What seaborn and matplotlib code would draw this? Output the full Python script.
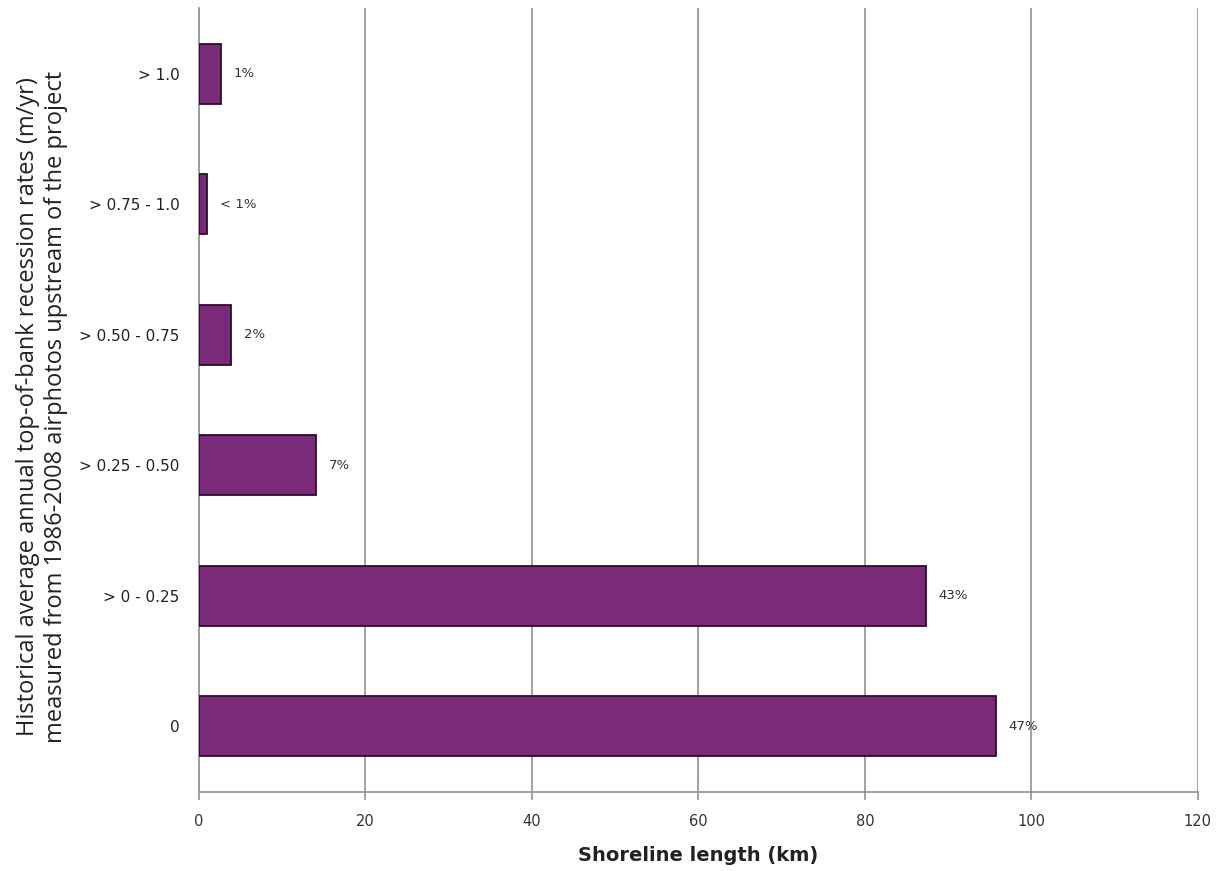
import matplotlib
matplotlib.use("Agg")
import matplotlib.pyplot as plt
import pandas as pd
import seaborn as sns

# data
rate_classes = ["> 1.0", "> 0.75 - 1.0", "> 0.50 - 0.75", "> 0.25 - 0.50", "> 0 - 0.25", "0"]
length_km = [2.6, 1.0, 3.9, 14.1, 87.3, 95.7]
pct_labels = ["1%", "< 1%", "2%", "7%", "43%", "47%"]

df = pd.DataFrame({"rate": rate_classes, "length": length_km})

sns.set_style("white")
plt.rcParams["font.family"] = ["DejaVu Sans"]

fig = plt.figure(figsize=(12.22, 8.71), dpi=100)
ax = fig.add_axes([0.1628, 0.0910, 0.8175, 0.8995])

sns.barplot(data=df, x="length", y="rate", orient="h", order=rate_classes,
            color="#7B2979", saturation=1, width=0.46,
            edgecolor="#2e0c2e", linewidth=1.3, ax=ax, zorder=3)

for i, (v, lab) in enumerate(zip(length_km, pct_labels)):
    ax.annotate(lab, xy=(v, i), xytext=(9, 0), textcoords="offset points",
                ha="left", va="center", fontsize=9.5, color="#333333",
                family="DejaVu Sans")

ax.set_xlim(0, 120)
ax.set_ylim(5.5, -0.5)
ax.set_xticks(range(0, 121, 20))
ax.grid(axis="x", color="#9a9a9a", linewidth=1.3, zorder=0)
ax.grid(axis="y", visible=False)
for s in ["top", "right"]:
    ax.spines[s].set_visible(False)
for s in ["left", "bottom"]:
    ax.spines[s].set_color("#9a9a9a")
    ax.spines[s].set_linewidth(1.3)

ax.tick_params(axis="x", length=6, width=1.3, color="#9a9a9a", pad=10,
               labelsize=10.5, labelcolor="#333333", direction="out", bottom=True)
ax.tick_params(axis="y", length=0, pad=14, labelsize=11, labelcolor="#222222")
for t in ax.get_xticklabels() + ax.get_yticklabels():
    t.set_family("DejaVu Sans")

ax.set_xlabel("Shoreline length (km)", fontsize=14, fontweight="bold",
              color="#222222", labelpad=12, family="DejaVu Sans")
ax.set_ylabel("Historical average annual top-of-bank recession rates (m/yr)\n"
              "measured from 1986-2008 airphotos upstream of the project",
              fontsize=17, family=["Open Sans", "DejaVu Sans"], color="#222222",
              linespacing=1.25)
ax.yaxis.set_label_coords(-0.131, 0.491)

fig.savefig("out.png", dpi=100)
